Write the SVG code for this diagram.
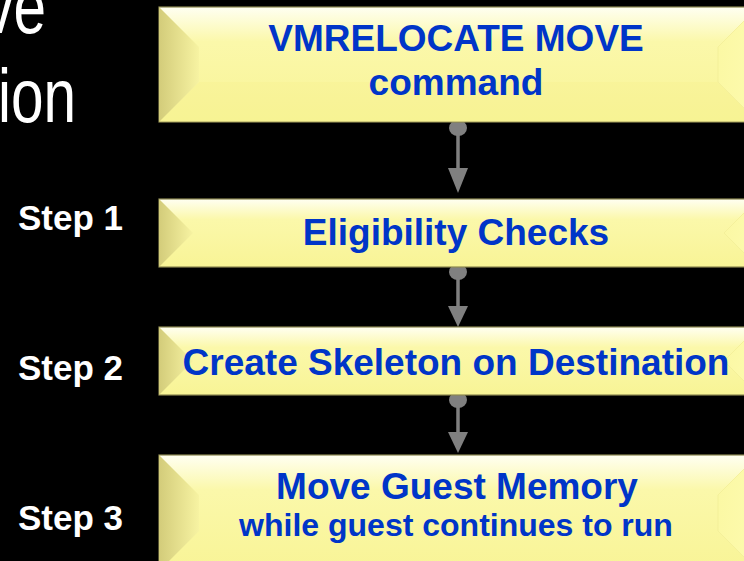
<svg xmlns="http://www.w3.org/2000/svg" width="744" height="561" viewBox="0 0 744 561">
  <defs>
    <linearGradient id="face" x1="0" y1="0" x2="0" y2="1">
      <stop offset="0" stop-color="#fffff2"/>
      <stop offset="0.3" stop-color="#fbf8aa"/>
      <stop offset="1" stop-color="#f8f496"/>
    </linearGradient>
    <linearGradient id="leftBevel" x1="0" y1="0" x2="1" y2="0">
      <stop offset="0" stop-color="#d3cc7a"/>
      <stop offset="1" stop-color="#f7f3a2"/>
    </linearGradient>
    <linearGradient id="rightBevel" x1="0" y1="0" x2="1" y2="0">
      <stop offset="0" stop-color="#fbf8a4"/>
      <stop offset="1" stop-color="#fdfbae"/>
    </linearGradient>
  </defs>
  <style>
    .bg { fill: #000000; }
    .title { fill: #ffffff; font-family: "Liberation Sans", Arial, sans-serif; font-size: 76px; }
    .step { fill: #ffffff; font-family: "Liberation Sans", Arial, sans-serif; font-weight: bold; font-size: 35px; }
    .box { fill: url(#face); stroke: #8c8850; stroke-width: 1.2; }
    .lb { fill: url(#leftBevel); }
    .rb { fill: url(#rightBevel); stroke: #f2ee98; stroke-width: 0.8; }
    .bb { fill: #f6f290; }
    .lbl { fill: #0035c8; font-family: "Liberation Sans", Arial, sans-serif; font-weight: bold; text-anchor: middle; }
    .big { font-size: 37px; }
    .small { font-size: 32px; }
    .conn { fill: #808080; stroke: none; }
    .shaft { stroke: #808080; stroke-width: 3.5; }
  </style>
  <rect class="bg" x="0" y="0" width="744" height="561"/>

  <g id="title">
    <text class="title" text-anchor="end" transform="translate(46,33) scale(0.77,1)">ve</text>
    <text class="title" text-anchor="end" transform="translate(76,122) scale(0.77,1)">ion</text>
  </g>

  <g id="step-labels">
    <text class="step" x="18" y="230">Step 1</text>
    <text class="step" x="18" y="380">Step 2</text>
    <text class="step" x="18" y="530">Step 3</text>
  </g>

  <g id="connectors">
    <g id="c1">
      <ellipse class="conn" cx="458" cy="128" rx="9" ry="8"/>
      <line class="shaft" x1="458" y1="128" x2="458" y2="170"/>
      <polygon class="conn" points="448,168 468,168 458,193"/>
    </g>
    <g id="c2">
      <ellipse class="conn" cx="458" cy="272" rx="9" ry="8"/>
      <line class="shaft" x1="458" y1="272" x2="458" y2="308"/>
      <polygon class="conn" points="448,306 468,306 458,327"/>
    </g>
    <g id="c3">
      <ellipse class="conn" cx="458" cy="400" rx="9" ry="8"/>
      <line class="shaft" x1="458" y1="400" x2="458" y2="434"/>
      <polygon class="conn" points="448,432 468,432 458,453"/>
    </g>
  </g>

  <g id="node-command">
    <rect class="box" x="159" y="7" width="600" height="115"/>
    <polygon class="bb" points="199,82 718,82 758,122 159,122" opacity="0.35"/>
    <polygon class="lb" points="159,7 199,47 199,82 159,122"/>
    <polygon class="rb" points="758,7 718,47 718,82 758,122"/>
    <text class="lbl big" x="456" y="51">VMRELOCATE MOVE</text>
    <text class="lbl big" x="456" y="95">command</text>
  </g>

  <g id="node-step1">
    <rect class="box" x="159" y="199" width="600" height="68"/>
    <polygon class="lb" points="159,199 193,233 159,267"/>
    <polygon class="rb" points="758,199 724,233 758,267"/>
    <text class="lbl big" x="456" y="245">Eligibility Checks</text>
  </g>

  <g id="node-step2">
    <rect class="box" x="159" y="327" width="600" height="68"/>
    <polygon class="lb" points="159,327 193,361 159,395"/>
    <polygon class="rb" points="758,327 724,361 758,395"/>
    <text class="lbl big" x="456" y="375">Create Skeleton on Destination</text>
  </g>

  <g id="node-step3">
    <rect class="box" x="159" y="455" width="600" height="116"/>
    <polygon class="lb" points="159,455 199,495 199,531 159,571"/>
    <polygon class="rb" points="758,455 718,495 718,531 758,571"/>
    <text class="lbl big" x="457" y="499">Move Guest Memory</text>
    <text class="lbl small" x="456" y="536">while guest continues to run</text>
  </g>
</svg>
